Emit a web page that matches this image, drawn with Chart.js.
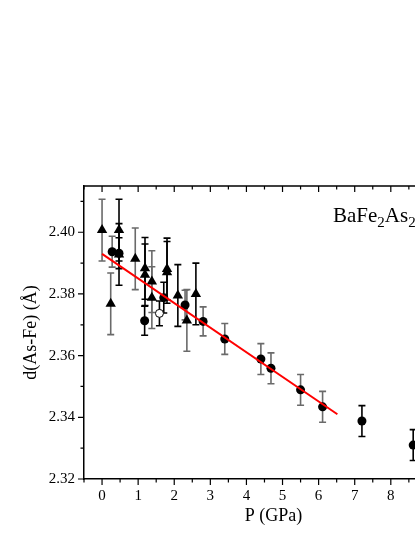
<!DOCTYPE html>
<html>
<head>
<meta charset="utf-8">
<script src="https://cdn.jsdelivr.net/npm/chart.js@4/dist/chart.umd.min.js"></script>
<style>
html, body { margin: 0; padding: 0; background: #fff; overflow: hidden; }
#wrap { position: absolute; left: 0; top: 0; width: 480px; height: 537px; }
</style>
</head>
<body>
<div id="wrap"><canvas id="chart" width="480" height="537"></canvas></div>
<script>
// --- values ---
// filled circles
const circleP   = [0.28, 0.47, 1.18, 1.71, 2.30, 2.80, 3.40, 4.40, 4.68, 5.50, 6.11, 7.20, 8.62];
const circleD   = [2.3937, 2.3932, 2.3713, 2.3788, 2.3764, 2.3711, 2.3654, 2.3589, 2.3559, 2.3489, 2.3434, 2.3388, 2.3310];
const circleErr = [0.005, 0.005, 0.0047, 0.005, 0.0048, 0.0047, 0.005, 0.005, 0.005, 0.005, 0.005, 0.005, 0.005];

// filled triangles
const triP   = [0, 0.24, 0.47, 0.47, 0.92, 1.19, 1.19, 1.38, 1.38, 1.80, 1.80, 2.10, 2.35, 2.60];
const triD   = [2.4007, 2.3768, 2.4007, 2.3928, 2.3914, 2.3883, 2.3862, 2.3840, 2.3788, 2.3881, 2.3870, 2.3795, 2.3714, 2.3800];
const triErr = [0.01, 0.01, 0.01, 0.01, 0.01, 0.01, 0.01, 0.01, 0.01, 0.01, 0.01, 0.01, 0.01, 0.01];

// open circle
const openP = [1.59];
const openD = [2.3737];
const openErr = [0.004];

// linear fit
const fitP = [0, 6.52];
const fitD = [2.393, 2.341];

// axes
const xTicks = [0, 1, 2, 3, 4, 5, 6, 7, 8, 9, 10];
const yTicks = [2.32, 2.34, 2.36, 2.38, 2.40];

const GRAY = '#6a6a6a', BLACK = '#000';
const circleBarColors = [GRAY, BLACK, BLACK, BLACK, GRAY, GRAY, GRAY, GRAY, GRAY, GRAY, GRAY, BLACK, BLACK];
const triBarColors = [GRAY, GRAY, BLACK, BLACK, GRAY, BLACK, BLACK, GRAY, GRAY, BLACK, BLACK, BLACK, GRAY, BLACK];

const toPts = (xs, ys) => xs.map((x, i) => ({ x: x, y: ys[i] }));
const FONT = "'Liberation Serif', 'Times New Roman', serif";

// error bars drawn under the markers
const errorBars = {
    id: 'errorBars',
    beforeDatasetsDraw(chart) {
        const ctx = chart.ctx, ys = chart.scales.y;
        chart.data.datasets.forEach((ds, di) => {
            if (!ds.errors) return;
            const meta = chart.getDatasetMeta(di);
            ctx.save();
            ctx.lineWidth = 1.6;
            meta.data.forEach((pt, i) => {
                const v = ds.data[i].y, e = ds.errors[i];
                const top = ys.getPixelForValue(v + e), bot = ys.getPixelForValue(v - e);
                ctx.strokeStyle = ds.barColors[i];
                ctx.beginPath();
                ctx.moveTo(pt.x, top); ctx.lineTo(pt.x, bot);
                ctx.moveTo(pt.x - 3.5, top); ctx.lineTo(pt.x + 3.5, top);
                ctx.moveTo(pt.x - 3.5, bot); ctx.lineTo(pt.x + 3.5, bot);
                ctx.stroke();
            });
            ctx.restore();
        });
    }
};

// frame, major/minor ticks, compound label
const frame = {
    id: 'frame',
    afterDraw(chart) {
        const ctx = chart.ctx, a = chart.chartArea;
        const xs = chart.scales.x, ys = chart.scales.y;
        ctx.save();
        ctx.strokeStyle = '#000';
        ctx.lineWidth = 1.5;
        ctx.beginPath();
        ctx.moveTo(a.left, a.top); ctx.lineTo(a.right, a.top); ctx.lineTo(a.right, a.bottom);
        ctx.stroke();
        ctx.lineWidth = 1.2;
        ctx.beginPath();
        for (let v = xs.min; v <= xs.max + 1e-9; v += 0.5) {
            const px = xs.getPixelForValue(v);
            const len = Math.abs(v - Math.round(v)) < 1e-6 ? 6 : 3.5;
            ctx.moveTo(px, a.bottom); ctx.lineTo(px, a.bottom + len);
            ctx.moveTo(px, a.top); ctx.lineTo(px, a.top + len);
        }
        for (let k = 0; ; k++) {
            const v = 2.32 + k * 0.01;
            if (v > ys.max + 1e-9) break;
            const py = ys.getPixelForValue(v);
            const len = k % 2 === 0 ? 6 : 3.5;
            ctx.moveTo(a.left, py); ctx.lineTo(a.left - len, py);
            ctx.moveTo(a.right, py); ctx.lineTo(a.right - len, py);
        }
        ctx.stroke();

        // BaFe2As2
        ctx.fillStyle = '#000';
        ctx.textBaseline = 'alphabetic';
        let x = 333, y = 222;
        const big = '21px ' + FONT, small = '15px ' + FONT;
        [['BaFe', big, 0], ['2', small, 5], ['As', big, 0], ['2', small, 5]].forEach(([t, f, dy]) => {
            ctx.font = f;
            ctx.fillText(t, x, y + dy);
            x += ctx.measureText(t).width;
        });
        ctx.restore();
    }
};

new Chart(document.getElementById('chart').getContext('2d'), {
    type: 'scatter',
    data: {
        datasets: [
            {
                type: 'line',
                data: toPts(fitP, fitD),
                borderColor: '#ff0000',
                borderWidth: 2,
                pointRadius: 0,
                fill: false
            },
            {
                data: toPts(triP, triD),
                errors: triErr,
                barColors: triBarColors,
                pointStyle: 'triangle',
                pointRadius: 6,
                backgroundColor: '#000',
                borderColor: '#000',
                borderWidth: 0
            },
            {
                data: toPts(circleP, circleD),
                errors: circleErr,
                barColors: circleBarColors,
                pointStyle: 'circle',
                pointRadius: 4.5,
                backgroundColor: '#000',
                borderColor: '#000',
                borderWidth: 0
            },
            {
                data: toPts(openP, openD),
                errors: openErr,
                barColors: [BLACK],
                pointStyle: 'circle',
                pointRadius: 4,
                backgroundColor: '#fff',
                borderColor: '#000',
                borderWidth: 1
            }
        ]
    },
    options: {
        responsive: false,
        animation: false,
        layout: { padding: { top: 186, left: 0, right: 17, bottom: 0 } },
        plugins: { legend: { display: false }, tooltip: { enabled: false } },
        scales: {
            x: {
                type: 'linear',
                min: -0.5, max: 10,
                afterFit: s => { s.height = 58; },
                afterBuildTicks: s => { s.ticks = xTicks.map(v => ({ value: v })); },
                grid: { display: false, drawTicks: false },
                border: { display: true, color: '#000', width: 1.5 },
                ticks: { color: '#000', padding: 8, font: { family: FONT, size: 15 }, maxRotation: 0 },
                title: { display: true, text: 'P (GPa)', color: '#000', font: { family: FONT, size: 18 }, padding: { top: 0, bottom: 10 } }
            },
            y: {
                type: 'linear',
                min: 2.32, max: 2.415,
                afterFit: s => { s.width = 84; },
                afterBuildTicks: s => { s.ticks = yTicks.map(v => ({ value: v })); },
                grid: { display: false, drawTicks: false },
                border: { display: true, color: '#000', width: 1.5 },
                ticks: { color: '#000', padding: 9, font: { family: FONT, size: 15 }, callback: v => v.toFixed(2) },
                title: { display: true, text: 'd(As-Fe) (Å)', color: '#000', font: { family: FONT, size: 18 }, padding: { top: 20, bottom: 0 } }
            }
        }
    },
    plugins: [errorBars, frame]
});
</script>
</body>
</html>
